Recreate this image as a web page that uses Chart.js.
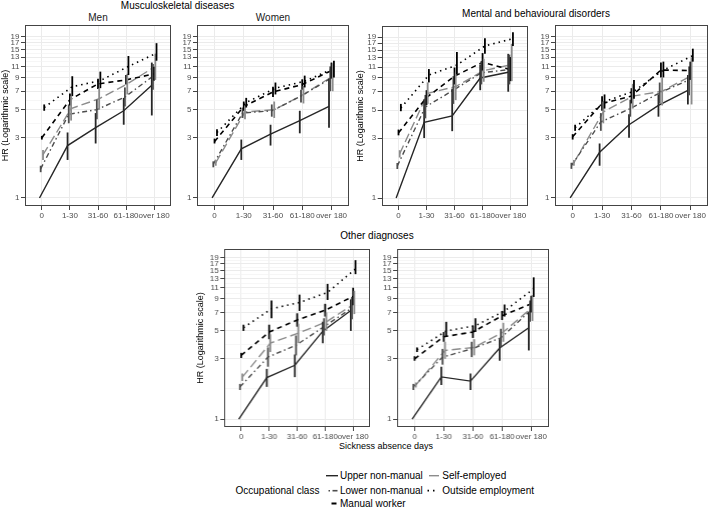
<!DOCTYPE html>
<html><head><meta charset="utf-8">
<script src="https://cdn.jsdelivr.net/npm/chart.js@4.4.1/dist/chart.umd.min.js"></script>
<style>
html,body{margin:0;padding:0;background:#fff;}
body{width:708px;height:508px;position:relative;overflow:hidden;font-family:'Liberation Sans',Arial,Helvetica,sans-serif;}
.pnl{position:absolute;}
.txt{position:absolute;white-space:nowrap;line-height:1;transform:translate(-50%,-50%);color:#000;}
.ltxt{position:absolute;white-space:nowrap;line-height:1;transform:translateY(-50%);color:#000;font-size:10px;}
</style></head><body>
<div class="txt" style="left:177.5px;top:6px;font-size:10px;">Musculoskeletal diseases</div>
<div class="txt" style="left:98px;top:17.5px;font-size:10px;color:#1a1a1a;">Men</div>
<div class="txt" style="left:273px;top:17.5px;font-size:10px;color:#1a1a1a;">Women</div>
<div class="txt" style="left:536px;top:13.5px;font-size:10px;">Mental and behavioural disorders</div>
<div class="txt" style="left:377px;top:235.5px;font-size:10px;">Other diagnoses</div>
<div class="txt" style="left:386px;top:446px;font-size:9px;">Sickness absence days</div>
<div class="ltxt" style="left:235.5px;top:490.7px;">Occupational class</div>
<div class="ltxt" style="left:340px;top:475.7px;">Upper non-manual</div>
<div class="ltxt" style="left:340px;top:490.7px;">Lower non-manual</div>
<div class="ltxt" style="left:340px;top:503.5px;">Manual worker</div>
<div class="ltxt" style="left:442.3px;top:475.7px;">Self-employed</div>
<div class="ltxt" style="left:442.3px;top:490.7px;">Outside employment</div>
<svg style="position:absolute;left:0;top:0;z-index:5" width="708" height="508">
  <line x1="326" y1="475.7" x2="338" y2="475.7" stroke="#262626" stroke-width="1.4"/>
  <line x1="328.5" y1="490.7" x2="330" y2="490.7" stroke="#4d4d4d" stroke-width="1.6"/>
  <line x1="332.5" y1="490.7" x2="337.5" y2="490.7" stroke="#4d4d4d" stroke-width="1.6"/>
  <line x1="331.5" y1="503.5" x2="336.5" y2="503.5" stroke="#000" stroke-width="2"/>
  <line x1="429" y1="475.7" x2="439" y2="475.7" stroke="#8c8c8c" stroke-width="1.4"/>
  <line x1="427.5" y1="490.7" x2="429" y2="490.7" stroke="#000" stroke-width="1.8"/>
  <line x1="433" y1="490.7" x2="434.5" y2="490.7" stroke="#000" stroke-width="1.8"/>
</svg>
<script>
// ---------- data ----------
const categories = ['0', '1-30', '31-60', '61-180', 'over 180'];
const yTickValues = [1, 3, 5, 7, 9, 11, 13, 15, 17, 19];
const seriesNames = ['Upper non-manual', 'Lower non-manual', 'Manual worker', 'Self-employed', 'Outside employment'];

// Musculoskeletal diseases - Men (rows follow seriesNames)
const msMenHR = [[1, 2.6, 3.6, 4.9, 7.8], [1.7, 4.6, 5.0, 6.3, 9.2], [3.0, 6.0, 8.0, 8.6, 9.6], [2.2, 5.1, 6.1, 8.0, 11.0], [5.2, 7.6, 8.5, 11.0, 14.0]];
const msMenLo = [[1, 2.0, 2.7, 3.8, 4.5], [1.6, 3.9, 4.2, 5.3, 7.2], [2.9, 5.4, 7.3, 7.9, 8.5], [2.0, 4.1, 5.0, 6.6, 8.6], [4.9, 6.4, 7.4, 9.4, 12.2]];
const msMenHi = [[1, 3.3, 4.7, 6.2, 11.8], [1.8, 5.5, 6.0, 7.5, 11.5], [3.1, 6.7, 8.8, 9.4, 10.9], [2.4, 6.4, 7.4, 9.6, 13.9], [5.5, 9.2, 10.0, 13.3, 16.8]];
// Musculoskeletal diseases - Women
const msWomenHR = [[1, 2.45, 3.2, 4.1, 5.3], [1.85, 4.7, 4.9, 6.4, 8.8], [2.8, 5.3, 6.9, 7.9, 10.2], [1.9, 4.8, 5.0, 6.6, 9.2], [3.3, 5.7, 7.4, 8.4, 10.6]];
const msWomenLo = [[1, 2.0, 2.6, 3.25, 3.6], [1.75, 4.3, 4.4, 5.7, 7.0], [2.7, 4.9, 6.3, 7.2, 8.8], [1.8, 4.2, 4.3, 5.6, 7.0], [3.1, 5.2, 6.6, 7.5, 9.0]];
const msWomenHi = [[1, 2.9, 3.8, 4.9, 8.8], [1.95, 5.2, 5.5, 7.2, 11.0], [2.95, 5.8, 7.6, 8.7, 11.8], [2.0, 5.4, 5.8, 7.7, 11.6], [3.5, 6.2, 8.2, 9.3, 12.2]];
// Mental and behavioural disorders - Men
const mbMenHR = [[1, 4.0, 4.5, 9.0, 10.0], [1.8, 5.3, 7.2, 9.9, 10.5], [3.3, 6.3, 9.3, 12.0, 10.5], [2.25, 6.8, 7.7, 10.3, 11.5], [5.2, 9.5, 11.4, 16.2, 18.5]];
const mbMenLo = [[1, 3.0, 3.4, 7.2, 7.0], [1.7, 4.3, 5.6, 8.0, 8.0], [3.15, 5.5, 8.0, 10.3, 8.5], [2.1, 5.6, 6.0, 8.4, 8.5], [4.9, 8.3, 9.6, 14.0, 16.2]];
const mbMenHi = [[1, 6.1, 7.4, 11.5, 14.0], [1.9, 6.6, 9.3, 12.3, 13.8], [3.5, 7.2, 10.9, 14.2, 13.2], [2.4, 8.3, 10.0, 12.8, 16.8], [5.6, 10.6, 14.5, 18.6, 20.8]];
// Mental and behavioural disorders - Women
const mbWomenHR = [[1, 2.3, 3.8, 5.4, 7.1], [1.8, 4.0, 5.1, 6.8, 8.6], [3.05, 5.6, 6.4, 10.3, 10.2], [1.9, 4.8, 6.4, 7.0, 9.3], [3.6, 5.8, 7.0, 10.3, 13.4]];
const mbWomenLo = [[1, 1.8, 3.0, 4.4, 5.5], [1.7, 3.4, 4.4, 5.6, 6.5], [2.9, 4.9, 5.6, 9.0, 8.6], [1.8, 3.9, 5.1, 5.4, 5.5], [3.4, 5.1, 6.1, 9.0, 12.0]];
const mbWomenHi = [[1, 2.7, 4.6, 6.6, 9.4], [1.9, 4.7, 6.0, 8.2, 11.0], [3.2, 6.4, 7.4, 11.8, 12.0], [2.0, 5.8, 8.0, 9.0, 13.0], [3.8, 6.6, 8.6, 12.0, 15.2]];
// Other diagnoses - Men
const odMenHR = [[1, 2.13, 2.67, 4.98, 7.26], [1.8, 3.1, 3.85, 5.4, 7.6], [3.2, 4.9, 6.1, 7.3, 9.4], [2.15, 4.0, 4.8, 5.9, 8.2], [5.3, 7.5, 8.4, 10.1, 15.5]];
const odMenLo = [[1, 1.8, 2.15, 4.0, 5.0], [1.7, 2.6, 3.2, 4.6, 6.2], [3.05, 4.3, 5.4, 6.5, 8.0], [2.0, 3.4, 4.0, 5.0, 6.8], [5.0, 6.3, 7.2, 8.8, 14.1]];
const odMenHi = [[1, 2.5, 3.25, 5.9, 8.9], [1.9, 3.7, 4.6, 6.3, 9.3], [3.35, 5.6, 6.9, 8.2, 11.0], [2.3, 4.7, 5.7, 7.0, 10.4], [5.6, 8.7, 9.7, 11.8, 18.2]];
// Other diagnoses - Women
const odWomenHR = [[1, 2.16, 2.0, 3.66, 5.3], [1.8, 3.1, 3.6, 4.4, 7.2], [3.0, 4.5, 4.9, 6.6, 8.2], [1.86, 3.5, 3.7, 4.9, 7.7], [3.55, 5.0, 5.5, 7.2, 10.8]];
const odWomenLo = [[1, 1.86, 1.7, 2.9, 3.5], [1.7, 2.7, 3.1, 3.8, 5.9], [2.9, 4.1, 4.4, 6.1, 7.0], [1.78, 3.0, 3.2, 4.1, 6.0], [3.4, 4.5, 4.9, 6.5, 9.3]];
const odWomenHi = [[1, 2.6, 2.3, 4.3, 7.0], [1.9, 3.6, 4.1, 5.2, 8.7], [3.15, 4.9, 5.5, 7.2, 9.5], [1.95, 4.1, 4.3, 5.8, 9.6], [3.7, 5.9, 6.3, 8.1, 13.3]];

// ---------- styling ----------
const FONT = "'Liberation Sans', Arial, Helvetica, sans-serif";
const styles = [
  {color: '#262626', width: 1.4, dash: []},
  {color: '#4d4d4d', width: 1.4, dash: [5, 3, 1.5, 3]},
  {color: '#000000', width: 1.6, dash: [5, 4]},
  {color: '#8c8c8c', width: 1.4, dash: [9, 4]},
  {color: '#000000', width: 1.6, dash: [1.5, 4]}
];
const dodge = 0.042;
// minor breaks (midpoints in log space between major breaks)
const minorTicks = [];
for (let i = 0; i < yTickValues.length - 1; i++) minorTicks.push(Math.sqrt(yTickValues[i] * yTickValues[i + 1]));
const allYTicks = yTickValues.concat(minorTicks).sort((a, b) => a - b);
const isMinor = v => !yTickValues.includes(v);

const errorBars = {
  id: 'errorBars',
  afterDatasetsDraw(chart) {
    const ctx = chart.ctx, ys = chart.scales.y;
    chart.data.datasets.forEach((ds, di) => {
      const meta = chart.getDatasetMeta(di);
      ctx.save();
      ctx.strokeStyle = ds.borderColor;
      ctx.lineWidth = 1.8;
      ctx.setLineDash([]);
      meta.data.forEach((pt, i) => {
        const a = ys.getPixelForValue(ds.errLo[i]), b = ys.getPixelForValue(ds.errHi[i]);
        if (Math.abs(a - b) < 0.5) return;
        ctx.beginPath(); ctx.moveTo(pt.x, a); ctx.lineTo(pt.x, b); ctx.stroke();
      });
      ctx.restore();
    });
  }
};
const frame = {
  id: 'frame',
  afterDraw(chart) {
    const a = chart.chartArea, ctx = chart.ctx;
    ctx.save();
    ctx.strokeStyle = '#444';
    ctx.lineWidth = 1;
    ctx.strokeRect(Math.round(a.left) + 0.5, Math.round(a.top) + 0.5, Math.round(a.right - a.left) - 1, Math.round(a.bottom - a.top) - 1);
    ctx.restore();
  }
};

function makePanel(g, hr, lo, hi) {
  const axisW = g.left - g.canvasLeft;
  const axisH = 18;
  const w = g.right - g.canvasLeft, h = g.bottom - g.top + axisH;
  const div = document.createElement('div');
  div.className = 'pnl';
  div.style.left = g.canvasLeft + 'px'; div.style.top = g.top + 'px';
  div.style.width = w + 'px'; div.style.height = h + 'px';
  const cv = document.createElement('canvas');
  div.appendChild(cv); document.body.appendChild(div);
  const datasets = seriesNames.map((name, s) => ({
    label: name,
    data: hr[s].map((v, i) => ({x: i + (s - 2) * dodge, y: v})),
    errLo: lo[s], errHi: hi[s],
    borderColor: styles[s].color, borderWidth: styles[s].width, borderDash: styles[s].dash,
    borderCapStyle: 'butt', pointRadius: 0, pointHoverRadius: 0, fill: false, tension: 0
  }));
  new Chart(cv, {
    type: 'line',
    data: {datasets},
    options: {
      responsive: true, maintainAspectRatio: false, animation: false, devicePixelRatio: 1,
      layout: {padding: 0},
      events: [],
      plugins: {legend: {display: false}, tooltip: {enabled: false}, title: {display: false}},
      scales: {
        x: {
          type: 'linear', min: -0.6, max: 4.6,
          afterBuildTicks: s => { s.ticks = categories.map((c, i) => ({value: i})); },
          afterFit: s => { s.height = axisH; s.paddingLeft = 0; s.paddingRight = 0; },
          ticks: {autoSkip: false, maxRotation: 0, minRotation: 0, padding: 1, color: '#4d4d4d',
                  font: {size: 8, family: FONT}, callback: v => (categories[v] !== undefined ? categories[v] : '')},
          grid: {color: '#ebebeb', lineWidth: 1, tickLength: 4, tickColor: '#444'},
          border: {display: false}
        },
        y: {
          type: 'logarithmic', min: g.yMin, max: g.yMax,
          afterBuildTicks: s => { s.ticks = allYTicks.map(v => ({value: v})); },
          afterFit: s => { s.width = axisW; s.paddingTop = 0; s.paddingBottom = 0; },
          ticks: {autoSkip: false, padding: 1.5, color: '#4d4d4d', font: {size: 8, family: FONT},
                  callback: v => (yTickValues.includes(v) ? String(v) : '')},
          grid: {
            color: c => (c.tick && isMinor(c.tick.value) ? '#f2f2f2' : '#ebebeb'),
            lineWidth: c => (c.tick && isMinor(c.tick.value) ? 0.7 : 1),
            tickLength: 4,
            tickColor: c => (c.tick && isMinor(c.tick.value) ? 'rgba(0,0,0,0)' : '#444')
          },
          border: {display: false},
          title: {display: !!g.yTitle, text: 'HR (Logarithmic scale)', color: '#000',
                  font: {size: 9, family: FONT}, padding: 0}
        }
      }
    },
    plugins: [errorBars, frame]
  });
}

const topRow = {top: 25, bottom: 206, yMin: 0.864, yMax: 23.4};
const botRow = {top: 248, bottom: 427, yMin: 0.865, yMax: 22.4};
makePanel(Object.assign({left: 25, right: 171, canvasLeft: 0, yTitle: true}, topRow), msMenHR, msMenLo, msMenHi);
makePanel(Object.assign({left: 197, right: 349, canvasLeft: 177}, topRow), msWomenHR, msWomenLo, msWomenHi);
makePanel(Object.assign({left: 382, right: 528.5, canvasLeft: 355.3, yTitle: true}, topRow), mbMenHR, mbMenLo, mbMenHi);
makePanel(Object.assign({left: 555, right: 708, canvasLeft: 535}, topRow), mbWomenHR, mbWomenLo, mbWomenHi);
makePanel(Object.assign({left: 224.5, right: 370, canvasLeft: 195.3, yTitle: true}, botRow), odMenHR, odMenLo, odMenHi);
makePanel(Object.assign({left: 397, right: 548.5, canvasLeft: 377}, botRow), odWomenHR, odWomenLo, odWomenHi);
</script>
</body></html>
